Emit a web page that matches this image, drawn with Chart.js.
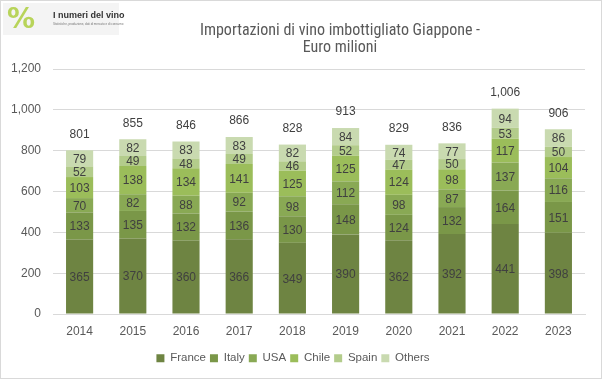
<!DOCTYPE html>
<html>
<head>
<meta charset="utf-8">
<script src="https://cdn.jsdelivr.net/npm/chart.js@4"></script>
<style>
  html, body { margin: 0; padding: 0; background: #fff; }
  #wrap { position: relative; width: 600px; height: 377px; border: 1px solid #d9d9d9; }
  #logo { position: absolute; left: 2px; top: 2px; width: 116px; height: 32px; background: #f4f4f4; }
  #logo .pct { position: absolute; left: 4px; top: 1px; font: bold 28px "DejaVu Sans"; color: #b8d45a; line-height: 30px; }
  #logo .name { position: absolute; left: 50px; top: 7px; font: bold 9px "Liberation Sans", Arial; color: #333; white-space: nowrap; }
  #logo .sub { position: absolute; left: 50px; top: 19px; font: 3px "Liberation Sans"; color: #777; white-space: nowrap; }
</style>
</head>
<body>
<div id="wrap">
  <canvas id="c" width="600" height="377"></canvas>
  <div id="logo"><span class="pct">%</span><span class="name">I numeri del vino</span><span class="sub">Statistiche, produzione, dati di mercato e di consumo</span></div>
</div>
<script>
const years = ['2014','2015','2016','2017','2018','2019','2020','2021','2022','2023'];
const france = [365,370,360,366,349,390,362,392,441,398];
const italy  = [133,135,132,136,130,148,124,132,164,151];
const usa    = [70,82,88,92,98,112,98,87,137,116];
const chile  = [103,138,134,141,125,125,124,98,117,104];
const spain  = [52,49,48,49,46,52,47,50,53,50];
const others = [79,82,83,83,82,84,74,77,94,86];
const totals = [801,855,846,866,828,913,829,836,1006,906];
const seriesNames = ['France','Italy','USA','Chile','Spain','Others'];
const seriesColors = ['#6e8442','#7a9748','#89a954','#9bbd5a','#b3cc8b','#c9dab0'];
const seriesData = [france, italy, usa, chile, spain, others];
const titleLines = ['Importazioni di vino imbottigliato Giappone -', 'Euro milioni'];

const labelPlugin = {
  id: 'labels',
  afterDatasetsDraw(chart) {
    const ctx = chart.ctx;
    ctx.save();
    ctx.font = '12px "Liberation Sans", Arial';
    ctx.fillStyle = '#404040';
    ctx.textAlign = 'center';
    ctx.textBaseline = 'middle';
    chart.data.datasets.forEach((ds, i) => {
      const meta = chart.getDatasetMeta(i);
      meta.data.forEach((bar, j) => {
        ctx.fillText(String(ds.data[j]), bar.x, (bar.y + bar.base) / 2 + 1);
      });
    });
    const top = chart.getDatasetMeta(chart.data.datasets.length - 1);
    top.data.forEach((bar, j) => {
      ctx.fillText(totals[j].toLocaleString('en-US'), bar.x, bar.y - 16);
    });
    // title, centred as in the reference
    ctx.font = '16px "Liberation Sans Narrow", "Roboto Condensed", Roboto';
    ctx.fillStyle = '#595959';
    ctx.fillText(titleLines[0], 339, 30);
    ctx.fillText(titleLines[1], 339, 47);
    ctx.restore();
  }
};

new Chart(document.getElementById('c'), {
  type: 'bar',
  data: {
    labels: years,
    datasets: seriesNames.map((n, i) => ({
      label: n,
      data: seriesData[i],
      backgroundColor: seriesColors[i],
      borderWidth: 0,
      barPercentage: 0.51,
      categoryPercentage: 1.0
    }))
  },
  options: {
    responsive: false,
    animation: false,
    layout: { padding: { left: 0, right: 16, top: 68, bottom: 4 } },
    plugins: {
      title: { display: false },
      legend: {
        position: 'bottom',
        labels: {
          color: '#595959',
          font: { family: '"Liberation Sans", Arial', size: 11.5 },
          boxWidth: 8, boxHeight: 8, padding: 4
        }
      },
      tooltip: { enabled: false }
    },
    scales: {
      x: {
        stacked: true,
        grid: { display: false, drawTicks: false },
        border: { color: '#d9d9d9' },
        ticks: { color: '#595959', font: { family: '"Liberation Sans", Arial', size: 12 }, padding: 10 }
      },
      y: {
        stacked: true,
        min: 0, max: 1200,
        afterFit(s) { s.width = 52; },
        grid: { color: '#d9d9d9', drawTicks: false },
        border: { display: false },
        ticks: {
          stepSize: 200,
          color: '#595959',
          font: { family: '"Liberation Sans", Arial', size: 12 },
          padding: 12,
          callback: v => v.toLocaleString('en-US')
        }
      }
    }
  },
  plugins: [labelPlugin]
});
</script>
</body>
</html>
